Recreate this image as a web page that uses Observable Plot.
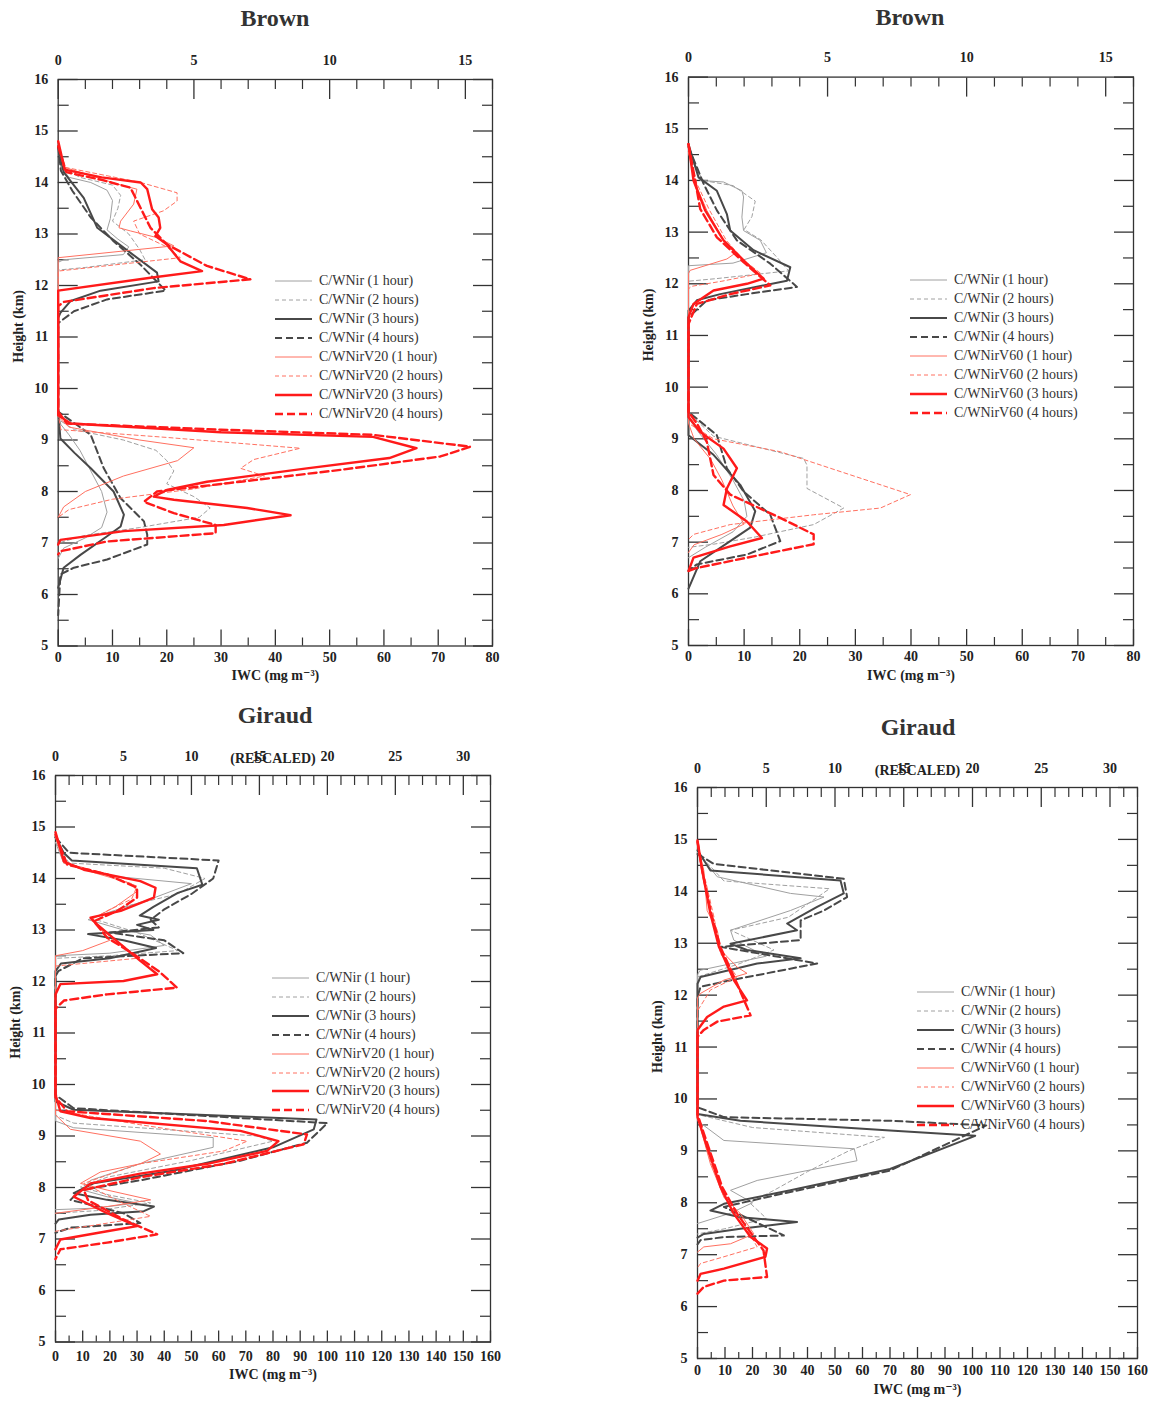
<!DOCTYPE html>
<html><head><meta charset="utf-8">
<script src="https://cdn.jsdelivr.net/npm/d3@7"></script>
<script src="https://cdn.jsdelivr.net/npm/@observablehq/plot@0.6"></script>
<style>
body{margin:0;background:#fff;}
#root{position:relative;width:1149px;height:1402px;overflow:hidden;font-family:"Liberation Serif","DejaVu Serif",serif;background:#fff;}
.panel{position:absolute;}
.title{position:absolute;font-weight:bold;font-size:24px;color:#333;transform:translate(-50%,-50%);white-space:nowrap;}
.leg{position:absolute;font-size:14px;color:#333;white-space:nowrap;display:flex;align-items:center;height:18px;}
.leg svg{margin-right:7px;}
</style></head><body><div id="root"></div>
<script>
// ---------------- DATA ----------------
const hours = ["1 hour", "2 hours", "3 hours", "4 hours"];
const titles = ["Brown", "Brown", "Giraud", "Giraud"];
const topTickLabelsSmall = [0, 5, 10, 15];
const topTickLabelsLarge = [0, 5, 10, 15, 20, 25, 30];
const heightTicks = [5, 6, 7, 8, 9, 10, 11, 12, 13, 14, 15, 16];

// Brown, V20 (top-left) : [IWC mg m-3, height km]
const tl_nir1 = [[0,14.8],[0.5,14.3],[2,14.1],[6,14.0],[9,13.85],[10,13.65],[9.6,13.3],[9,13.08],[11,12.9],[13,12.75],[12,12.6],[1,12.5],[0,12.45],
  [0,9.5],[0.5,9.3],[2,9.1],[4,8.8],[6,8.4],[8,8.0],[9,7.6],[8,7.3],[5,7.1],[1,6.9],[0,6.7]];
const tl_nir2 = [[0,14.8],[0.5,14.3],[4,14.1],[10,13.95],[11.5,13.75],[11,13.5],[10,13.25],[13,13.0],[15,12.7],[16,12.5],[5,12.35],[0,12.3],
  [0,9.4],[3,9.2],[12,9.0],[18,8.8],[20,8.6],[21.3,8.4],[20,8.15],[25,7.9],[28,7.68],[26,7.5],[15,7.3],[5,7.15],[0,7.0]];
const tl_nir3 = [[0,14.7],[1,14.2],[4.7,13.7],[7.2,13.12],[12.1,12.73],[18.2,12.25],[18.5,12.08],[7.8,11.9],[2.3,11.7],[0.4,11.47],[0,11.37],
  [0,9.6],[0.4,9.03],[3,8.75],[6,8.45],[10.2,8.0],[12.1,7.55],[11.5,7.32],[9,7.13],[4.1,6.77],[1,6.52],[0,6.13]];
const tl_nir4 = [[0,14.7],[0.5,14.23],[2.6,13.84],[6,13.32],[10.2,12.86],[15.2,12.4],[19.8,11.9],[9,11.73],[2.9,11.5],[0,11.27],
  [0,9.55],[6,9.1],[8.4,8.45],[11.5,7.87],[15.8,7.42],[16.4,7.16],[16.4,6.97],[9,6.68],[2.9,6.52],[0.4,6.39],[0,5.6]];
const tl_v1 = [[0,14.8],[1,14.3],[10.9,13.97],[14.5,13.87],[13.9,13.58],[11.5,13.25],[11.2,13.12],[13.3,13.06],[18.2,12.93],[21.3,12.77],[0,12.54],
  [0,9.45],[2,9.25],[15,9.0],[25,8.85],[22,8.6],[12,8.3],[5,8.0],[1,7.7],[0,7.5]];
const tl_v2 = [[0,14.8],[1,14.3],[15.2,14.0],[21.9,13.8],[21.9,13.64],[19.4,13.45],[13.9,13.25],[15,13.0],[20,12.75],[22.5,12.54],[0,12.28],
  [0,9.5],[0.5,9.2],[20,9.05],[44.6,8.84],[36,8.62],[33.6,8.45],[38,8.3],[25,8.05],[10,7.85],[2,7.65],[0,7.5]];
const tl_v3 = [[0,14.8],[1.2,14.25],[8,14.1],[15.2,14.0],[16.4,13.87],[17.3,13.48],[18.5,13.32],[18.8,13.12],[17.9,12.96],[20,12.8],[22.5,12.47],[26.5,12.28],[17,12.15],[0,11.9],
  [0,9.48],[2.3,9.32],[30,9.15],[58,9.06],[66,8.84],[61,8.65],[45.8,8.45],[27.4,8.19],[20,8.03],[17.6,7.9],[21.3,7.84],[34.8,7.68],[42.8,7.54],[30.5,7.35],[12.1,7.23],[0.4,7.06],[0,6.97]];
const tl_v4 = [[0,14.7],[1.5,14.2],[8,14.05],[13.3,13.9],[15.2,13.5],[17,13.12],[20,12.8],[27.4,12.38],[35.4,12.12],[17.6,11.95],[1,11.68],[0,11.6],
  [0,9.55],[1.6,9.32],[30,9.2],[58,9.1],[75.9,8.87],[70.4,8.68],[52,8.42],[33.6,8.19],[18.2,8.0],[15.8,7.8],[21.3,7.58],[29,7.35],[29,7.19],[9,7.03],[0.4,6.84],[0,6.78]];

// Brown, V60 (top-right)
const tr_nir1 = [[0,14.6],[2.1,14.0],[6.3,13.97],[9.6,13.8],[9.9,13.68],[9.6,13.29],[9.9,13.03],[12.9,12.84],[14,12.6],[8,12.4],[0,12.35],
  [0,9.4],[2,9.1],[5,8.7],[8,8.2],[10,7.8],[10.5,7.5],[8,7.2],[3,6.9],[0,6.7]];
const tr_nir2 = [[0,14.6],[2.5,14.0],[8,13.9],[12,13.6],[11.4,13.3],[10,13.05],[13,12.85],[16,12.5],[18,12.25],[5,12.1],[0,12.05],
  [0,9.5],[4.5,9.05],[20.7,8.62],[21.3,8.49],[21.3,8.04],[27.9,7.66],[22.5,7.34],[12,7.1],[4.5,6.96],[0,6.9]];
const tr_nir3 = [[0,14.7],[1.8,14.06],[5.1,13.8],[6.9,13.35],[7.5,13.03],[11.7,12.65],[18.3,12.32],[17.7,12.06],[5.7,11.8],[1.5,11.68],[0,11.48],
  [0,9.07],[4.5,8.69],[9.3,8.11],[12,7.6],[11.1,7.28],[7.5,7.02],[2.1,6.63],[0.6,6.25],[0,6.1]];
const tr_nir4 = [[0,14.65],[2.7,13.94],[5.1,13.42],[8.7,12.84],[14.7,12.39],[19.5,11.94],[10.5,11.8],[3.3,11.68],[0,11.35],
  [0,9.52],[5.1,9.07],[6.9,8.43],[9.9,7.98],[14.7,7.53],[16.5,7.02],[10.5,6.76],[1.5,6.57],[0,6.45]];
const tr_v1 = [[0,14.55],[1.2,13.94],[3.3,13.42],[6.3,12.84],[8.5,12.6],[6.9,12.48],[0.3,12.26],[0,12.2],
  [0,9.3],[1,9.0],[4,8.6],[6,8.2],[8,7.7],[10,7.35],[6,7.15],[1,6.95],[0,6.8]];
const tr_v2 = [[0,14.55],[1.5,13.94],[3.8,13.42],[6.8,12.84],[10,12.45],[13,12.2],[6,12.05],[0.5,11.95],[0,11.9],
  [0,9.3],[4.5,9.0],[16.5,8.75],[25.5,8.43],[39.9,7.92],[34.5,7.66],[22.5,7.53],[7.5,7.34],[0.9,7.15],[0,7.05]];
const tr_v3 = [[0,14.7],[0.9,14.0],[3,13.42],[6.3,12.84],[10.5,12.39],[13.5,12.1],[10.5,12.0],[4.5,11.87],[0.9,11.61],[0,11.35],
  [0,9.42],[2.1,9.13],[6.3,8.81],[8.7,8.43],[6.9,8.04],[6.3,7.72],[10.5,7.4],[13.2,7.08],[7.5,6.92],[0.9,6.7],[0,6.44]];
const tr_v4 = [[0,14.7],[1.2,14.0],[2.1,13.45],[5.1,12.9],[9.9,12.42],[14.7,11.97],[7.5,11.8],[1.5,11.61],[0,11.22],
  [0,9.52],[1.5,9.3],[3.3,8.94],[4.5,8.3],[7.5,7.92],[16.5,7.47],[22.5,7.15],[22.5,6.96],[10.5,6.7],[1.5,6.5],[0,6.44]];

// Giraud, V20 (bottom-left)
const bl_nir1 = [[0,14.7],[3,14.3],[20,14.05],[50,13.9],[35,13.6],[20,13.35],[12,13.2],[25,13.0],[35,12.9],[40,12.7],[20,12.55],[0,12.5],
  [0,9.29],[6.7,9.16],[58,8.97],[58,8.78],[31,8.46],[12.9,8.14],[10,7.95],[19,7.82],[30,7.7],[15,7.6],[0,7.57]];
const bl_nir2 = [[0,14.7],[5,14.3],[40,14.2],[55,14.0],[45,13.7],[25,13.45],[15,13.2],[30,12.95],[45,12.6],[20,12.5],[0,12.45],
  [0,9.4],[6.7,9.25],[74,9.0],[80,8.9],[49.6,8.52],[19,8.2],[9.2,8.01],[20,7.85],[35,7.7],[15,7.55],[0,7.5]];
const bl_nir3 = [[0,14.8],[3,14.5],[6,14.35],[52,14.2],[54,13.88],[45,13.72],[36,13.45],[31,13.28],[38,13.2],[30,13.1],[36,13.0],[12,12.92],[25,12.8],[37,12.65],[20,12.45],[2,12.35],[0,12.2],
  [0,9.67],[6.7,9.51],[96,9.32],[95,9.13],[80,8.78],[43.5,8.33],[14,8.08],[6.7,7.89],[19,7.76],[36.2,7.63],[32.5,7.54],[12.9,7.47],[1.2,7.38],[0,7.3]];
const bl_nir4 = [[0,14.8],[5,14.5],[60,14.35],[58,14.0],[50,13.7],[40,13.4],[35,13.2],[38,13.05],[20,12.95],[40,12.8],[47,12.55],[10,12.45],[1,12.2],[0,12.1],
  [0,9.8],[6.7,9.54],[100,9.25],[92.5,8.87],[68,8.52],[31.2,8.14],[9.2,7.95],[5.5,7.76],[25,7.5],[31.2,7.31],[5.5,7.22],[0,7.12]];
const bl_v1 = [[0,14.8],[3,14.3],[15,14.1],[28,13.9],[30,13.75],[22,13.45],[13,13.2],[17,13.0],[20,12.8],[10,12.6],[0,12.5],
  [0,9.41],[5.5,9.13],[31.2,8.9],[38.6,8.65],[31.2,8.46],[16.5,8.3],[9.2,8.08],[19,7.95],[35,7.76],[19,7.63],[0,7.5]];
const bl_v2 = [[0,14.8],[4,14.3],[18,14.1],[30,13.85],[28,13.6],[20,13.4],[13,13.2],[18,12.95],[25,12.7],[30,12.45],[10,12.35],[0,12.3],
  [0,9.5],[31,9.22],[70.5,8.9],[62,8.71],[31,8.46],[10.4,8.08],[25,7.69],[35,7.44],[0,7.15]];
const bl_v3 = [[0,14.9],[3.1,14.33],[10.4,14.17],[31.2,13.95],[36.8,13.82],[36.2,13.63],[24,13.37],[12.9,13.24],[15.3,13.11],[24,12.72],[31.2,12.4],[37.4,12.14],[25,12.01],[1.8,11.95],[0,11.75],
  [0,9.8],[1.8,9.48],[12.9,9.35],[68,9.1],[82,8.9],[77.8,8.71],[55.8,8.46],[31.2,8.27],[12.9,8.08],[6.7,7.82],[19,7.5],[30,7.25],[19,7.15],[1.8,6.99],[0,6.8]];
const bl_v4 = [[0,14.85],[4.3,14.27],[19,14.08],[30,13.82],[30,13.63],[22.7,13.37],[14.1,13.17],[19,12.85],[28.8,12.53],[38,12.2],[44.7,11.88],[19,11.75],[3.1,11.63],[0,11.47],
  [0,9.75],[4.3,9.48],[55.8,9.29],[92.5,9.03],[91.3,8.84],[62,8.46],[31.2,8.2],[10.4,7.95],[12,7.75],[25,7.38],[37.4,7.09],[19,6.93],[1.8,6.8],[0,6.61]];

// Giraud, V60 (bottom-right)
const br_nir1 = [[0,14.75],[7.2,14.28],[33.8,13.96],[46,13.89],[33.8,13.63],[12,13.25],[13.2,13.06],[25,12.75],[1,12.48],[0,12.4],
  [0,9.58],[9.6,9.2],[57,9.04],[58,8.81],[21.7,8.43],[12,8.24],[20,8.0],[12,7.8],[0,7.6]];
const br_nir2 = [[0,14.75],[9.6,14.2],[48,14.05],[44,13.9],[33,13.5],[12,13.25],[27.8,12.87],[15,12.6],[0,12.35],
  [0,9.7],[20,9.45],[68,9.26],[55,9.0],[40,8.6],[27.8,8.24],[19,8.0],[25,7.7],[10,7.5],[0,7.4]];
const br_nir3 = [[0,14.79],[4.7,14.4],[52,14.21],[53.2,13.96],[43.5,13.7],[32.6,13.38],[36.2,13.25],[12,12.99],[18,12.87],[37.5,12.71],[21.7,12.61],[1.1,12.35],[0,12.22],
  [0,9.71],[15.6,9.58],[70,9.39],[101,9.29],[70,8.65],[33.8,8.24],[9.6,7.98],[4.7,7.85],[15.6,7.72],[36.2,7.63],[15.6,7.5],[2.3,7.4],[0,7.33]];
const br_nir4 = [[0,14.72],[5.9,14.53],[53.2,14.24],[54.4,13.89],[46,13.63],[37.5,13.44],[37.5,13.06],[8.4,12.93],[43.5,12.61],[9.6,12.26],[1.1,12.16],[0,11.97],
  [0,9.84],[9.6,9.65],[70,9.58],[105,9.49],[70,8.62],[27.8,8.14],[9.6,7.92],[31.4,7.37],[9.6,7.34],[1.1,7.28],[0,7.2]];
const br_v1 = [[0,14.92],[2.3,14.4],[3.5,13.63],[7.2,13.25],[8.4,12.87],[14.4,12.54],[18,12.42],[9.6,12.29],[1,12.03],[0,11.95],
  [0,9.65],[4.7,8.75],[9.6,8.11],[15.6,7.79],[20.5,7.4],[12,7.21],[2.3,7.15],[0,7.05]];
const br_v2 = [[0,14.9],[2.5,14.3],[6,13.5],[8.4,12.8],[14.4,12.35],[4.7,12.1],[1,11.78],[0,11.7],
  [0,9.65],[4.7,8.8],[9.6,8.11],[15.6,7.7],[21.7,7.15],[9.6,6.96],[1.1,6.83],[0,6.75]];
const br_v3 = [[0,14.98],[1.7,14.4],[4.7,13.57],[7.8,12.93],[13.2,12.29],[18,11.9],[9.6,11.78],[3.5,11.58],[0,11.33],
  [0,9.65],[3.5,9.07],[8.4,8.3],[13.2,7.79],[19.3,7.34],[25.3,7.12],[24.7,6.96],[9.6,6.73],[1.1,6.63],[0,6.5]];
const br_v4 = [[0,14.95],[1.9,14.35],[5,13.57],[8.3,12.93],[14.4,12.22],[19.3,11.61],[7.2,11.49],[2.3,11.33],[0,11.2],
  [0,9.7],[4,9.07],[9,8.3],[14.4,7.79],[24,7.08],[25.3,6.57],[9.6,6.5],[2.3,6.38],[0,6.25]];

// ---------------- STYLES / LAYOUT ----------------
const styles = [
  {stroke:"#a0a0a0", w:1,   dash:null},
  {stroke:"#a0a0a0", w:1,   dash:"4,3"},
  {stroke:"#484848", w:2,   dash:null},
  {stroke:"#484848", w:2,   dash:"7,4"},
  {stroke:"#ff7060", w:1,   dash:null},
  {stroke:"#ff7060", w:1,   dash:"4,3"},
  {stroke:"#ff1a1a", w:2.4, dash:null},
  {stroke:"#ff1a1a", w:2.4, dash:"8,4"}
];

const panels = [
  {left:0,   top:30,  width:560, height:670, ml:57.7, mr:68, mt:49,   mb:54.5, xmax:80,
   series:[tl_nir1,tl_nir2,tl_nir3,tl_nir4,tl_v1,tl_v2,tl_v3,tl_v4], vname:"C/WNirV20",
   topLabels: topTickLabelsSmall, rescaled:false, titleX:275, titleY:18,
   leg:{x:275, y:281, dy:18.95}, bPad:0},
  {left:620, top:30,  width:529, height:670, ml:68,   mr:16, mt:46.6, mb:55,   xmax:80,
   series:[tr_nir1,tr_nir2,tr_nir3,tr_nir4,tr_v1,tr_v2,tr_v3,tr_v4], vname:"C/WNirV60",
   topLabels: topTickLabelsSmall, rescaled:false, titleX:910, titleY:17,
   leg:{x:910, y:280, dy:19}, bPad:0},
  {left:0,   top:735, width:560, height:667, ml:55,   mr:70, mt:40,   mb:60.5, xmax:160,
   series:[bl_nir1,bl_nir2,bl_nir3,bl_nir4,bl_v1,bl_v2,bl_v3,bl_v4], vname:"C/WNirV20",
   topLabels: topTickLabelsLarge, rescaled:true, titleX:275, titleY:715,
   leg:{x:272, y:978, dy:18.9}, bPad:3},
  {left:620, top:745, width:529, height:657, ml:77,   mr:12, mt:42,   mb:44,   xmax:160,
   series:[br_nir1,br_nir2,br_nir3,br_nir4,br_v1,br_v2,br_v3,br_v4], vname:"C/WNirV60",
   topLabels: topTickLabelsLarge, rescaled:true, titleX:918, titleY:727,
   leg:{x:917, y:992, dy:19}, bPad:1}
];

const root = document.getElementById("root");
const font = "'Liberation Serif', 'DejaVu Serif', serif";

panels.forEach((p, pi) => {
  const halfTicks = d3.range(5.5, 16, 1);
  const bottomMajor = p.xmax === 80 ? d3.range(0, 81, 10) : d3.range(0, 161, 10);
  const bottomMinor = d3.range(5, p.xmax, 10);
  const topMajor = p.topLabels.map(d => d * 5);
  const topMinor = d3.range(5, p.xmax + 0.1, 5).filter(d => d % 25 !== 0);
  const bSize = p.xmax === 80 ? -16 : -11;
  const bMinSize = p.xmax === 80 ? -8 : -6;

  const marks = [
    Plot.frame({stroke:"#333", strokeWidth:1.3}),
    // left y axis
    Plot.axisY(heightTicks, {anchor:"left", tickSize:-20, tickPadding:30, tickFormat:d => String(d), stroke:"#333", strokeWidth:1.3, fill:"#222", fontWeight:"bold", fontSize:14, label:null}),
    Plot.axisY(halfTicks, {anchor:"left", tickSize:-11, tickFormat:()=>"", stroke:"#333", strokeWidth:1.2, label:null}),
    Plot.axisY(heightTicks, {anchor:"right", tickSize:-20, tickFormat:()=>"", stroke:"#333", strokeWidth:1.3, label:null}),
    Plot.axisY(halfTicks, {anchor:"right", tickSize:-11, tickFormat:()=>"", stroke:"#333", strokeWidth:1.2, label:null}),
    // bottom x axis
    Plot.axisX(bottomMajor, {anchor:"bottom", tickSize:bSize, tickPadding: -bSize + 6 + p.bPad, tickFormat:d => String(d), stroke:"#333", strokeWidth:1.3, fill:"#222", fontWeight:"bold", fontSize:14, label:null}),
    Plot.axisX(bottomMinor, {anchor:"bottom", tickSize:bMinSize, tickFormat:()=>"", stroke:"#333", strokeWidth:1.2, label:null}),
    // top x axis (value / 5)
    Plot.axisX(topMajor, {anchor:"top", tickSize:-19, tickPadding:34, tickFormat:d => String(d / 5), stroke:"#333", strokeWidth:1.3, fill:"#222", fontWeight:"bold", fontSize:14, label:null}),
    Plot.axisX(topMinor, {anchor:"top", tickSize:-9, tickFormat:()=>"", stroke:"#333", strokeWidth:1.2, label:null}),
    // axis titles
    Plot.text(["Height (km)"], {frameAnchor:"left", dx:-40, rotate:-90, fontWeight:"bold", fontSize:14, fill:"#222"}),
    Plot.text(["IWC (mg m\u207B\u00B3)"], {frameAnchor:"bottom", dy:34 + p.bPad, fontWeight:"bold", fontSize:14, fill:"#222"})
  ];
  if (p.rescaled) {
    marks.push(Plot.text(["(RESCALED)"], {frameAnchor:"top", dy:-13, lineAnchor:"bottom", fontWeight:"bold", fontSize:14, fill:"#222"}));
  }
  p.series.forEach((pts, i) => {
    const s = styles[i];
    marks.push(Plot.line(pts, {x: d => d[0], y: d => d[1], stroke: s.stroke, strokeWidth: s.w,
      strokeDasharray: s.dash, curve: "linear", strokeLinejoin: "round"}));
  });

  const chart = Plot.plot({
    width: p.width, height: p.height,
    marginLeft: p.ml, marginRight: p.mr, marginTop: p.mt, marginBottom: p.mb,
    x: {domain: [0, p.xmax]},
    y: {domain: [5, 16]},
    style: {fontFamily: font, background: "transparent", overflow: "visible"},
    marks
  });
  chart.classList.add("panel");
  chart.style.left = p.left + "px";
  chart.style.top = p.top + "px";
  root.appendChild(chart);

  const t = document.createElement("div");
  t.className = "title";
  t.textContent = titles[pi];
  t.style.left = p.titleX + "px";
  t.style.top = p.titleY + "px";
  root.appendChild(t);

  // legend
  const labels = hours.map(h => "C/WNir (" + h + ")").concat(hours.map(h => p.vname + " (" + h + ")"));
  labels.forEach((lab, i) => {
    const s = styles[i];
    const row = document.createElement("div");
    row.className = "leg";
    row.style.left = p.leg.x + "px";
    row.style.top = (p.leg.y + i * p.leg.dy - 9) + "px";
    row.innerHTML = `<svg width="37" height="18"><line x1="0" x2="37" y1="9" y2="9" stroke="${s.stroke}" stroke-width="${s.w}" ${s.dash ? `stroke-dasharray="${s.dash}"` : ""}/></svg><span>${lab}</span>`;
    root.appendChild(row);
  });
});
</script></body></html>
